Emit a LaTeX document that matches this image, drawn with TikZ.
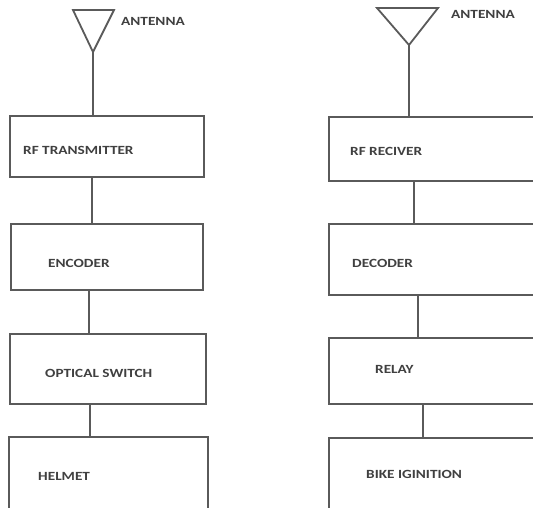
\documentclass[tikz,border=0pt]{standalone}
\usepackage{fontspec}
\newfontfamily\lblfont[FakeStretch=1.22]{Carlito}
\definecolor{linegray}{HTML}{5A5A5A}
\definecolor{txtgray}{HTML}{404040}
\begin{document}
\begin{tikzpicture}[x=1pt,y=-1pt,
  blk/.style={draw=linegray,line width=1.8pt,rectangle,inner sep=0pt,fill=none},
  lbl/.style={inner sep=0pt,anchor=west,text=txtgray,font=\lblfont\bfseries\fontsize{12.5}{13}\selectfont},
  wire/.style={draw=linegray,line width=1.8pt}]
\clip (0,0) rectangle (533,508);
\fill[white] (0,0) rectangle (533,508);
% left column
\node[blk,minimum width=194pt,minimum height=61pt] (rft) at (107,146.5) {};
\node[blk,minimum width=192pt,minimum height=66pt] (enc) at (107,257) {};
\node[blk,minimum width=196pt,minimum height=70pt] (opt) at (108,369) {};
\node[blk,minimum width=199pt,minimum height=83pt] (hel) at (108.5,478.5) {};
% right column
\node[blk,minimum width=205pt,minimum height=64pt] (rfr) at (431.5,149) {};
\node[blk,minimum width=205pt,minimum height=71pt] (dec) at (431.5,259.5) {};
\node[blk,minimum width=205pt,minimum height=66pt] (rel) at (431.5,371) {};
\node[blk,minimum width=207pt,minimum height=82pt] (bik) at (432.5,479) {};
% antennas
\coordinate (la1) at (73,10); \coordinate (la2) at (114,10); \coordinate (lap) at (93,52);
\coordinate (ra1) at (377,8); \coordinate (ra2) at (438,8); \coordinate (rap) at (409,45);
\draw[wire,line join=miter] (la1) -- (la2) -- (lap) -- cycle;
\draw[wire,line join=miter] (ra1) -- (ra2) -- (rap) -- cycle;
\draw[wire] (lap) -- (rft.north -| lap);
\draw[wire] (rap) -- (rfr.north -| rap);
% connectors
\draw[wire] (rft.south -| 92,0) -- (enc.north -| 92,0);
\draw[wire] (enc.south -| 89,0) -- (opt.north -| 89,0);
\draw[wire] (opt.south -| 90,0) -- (hel.north -| 90,0);
\draw[wire] (rfr.south -| 414,0) -- (dec.north -| 414,0);
\draw[wire] (dec.south -| 418,0) -- (rel.north -| 418,0);
\draw[wire] (rel.south -| 423,0) -- (bik.north -| 423,0);
% labels
\node[lbl] (tla) at (121,21) {ANTENNA};
\node[lbl] (tra) at (451,14) {ANTENNA};
\node[lbl] (trft) at (23,150) {RF TRANSMITTER};
\node[lbl] (tenc) at (48,263) {ENCODER};
\node[lbl] (topt) at (45,373) {OPTICAL SWITCH};
\node[lbl] (thel) at (38,476) {HELMET};
\node[lbl] (trfr) at (350,151) {RF RECIVER};
\node[lbl] (tdec) at (352,263) {DECODER};
\node[lbl] (trel) at (375,369) {RELAY};
\node[lbl] (tbik) at (366,474) {BIKE IGINITION};
\end{tikzpicture}
\end{document}
